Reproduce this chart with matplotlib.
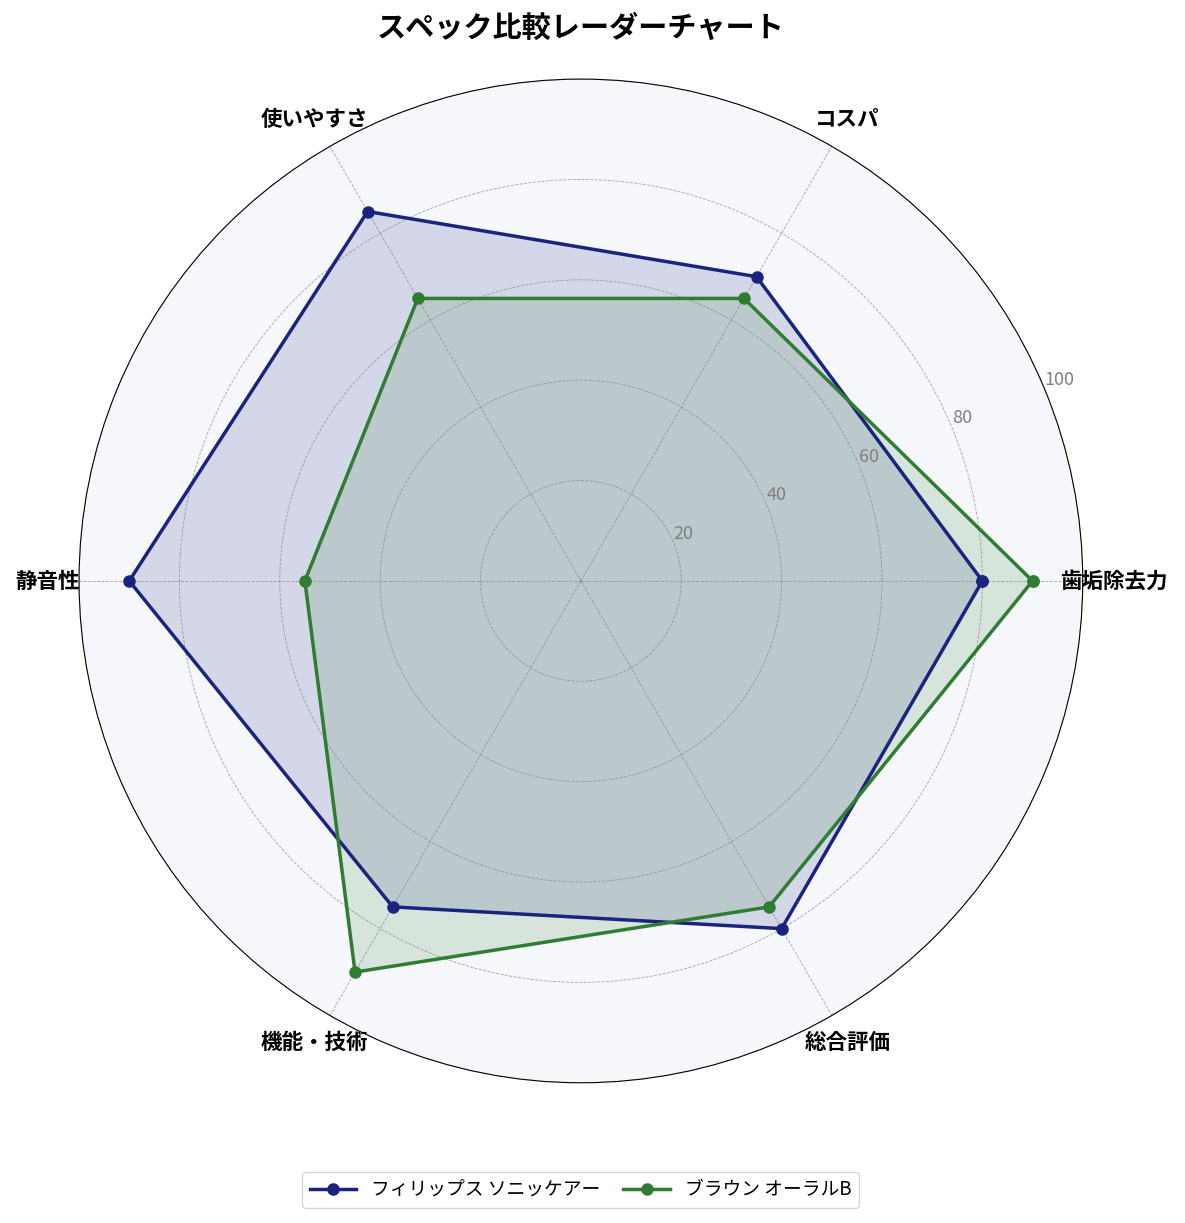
import numpy as np
import matplotlib
matplotlib.use("Agg")
import matplotlib.pyplot as plt

plt.rcParams['font.family'] = ['Noto Sans CJK JP', 'DejaVu Sans']

# axis categories and scores
categories = ['歯垢除去力', 'コスパ', '使いやすさ', '静音性', '機能・技術', '総合評価']
philips = [80, 70, 85, 90, 75, 80]
braun = [90, 65, 65, 55, 90, 75]
series_names = ['フィリップス ソニッケアー', 'ブラウン オーラルB']
r_ticks = [20, 40, 60, 80, 100]

angles = np.linspace(0, 2 * np.pi, len(categories), endpoint=False).tolist()
angles_closed = angles + angles[:1]

fig = plt.figure(figsize=(11.85, 12.23), dpi=100)
ax = fig.add_axes([0.0667, 0.1145, 0.847, 0.821], polar=True)
ax.set_facecolor('#f5f7fa')

colors = ['#1a237e', '#2e7d32']
for vals, name, c in zip([philips, braun], series_names, colors):
    v = vals + vals[:1]
    ax.plot(angles_closed, v, color=c, linewidth=2.5, marker='o', markersize=8, label=name)
    ax.fill(angles_closed, v, color=c, alpha=0.15)

ax.set_ylim(0, 100)
ax.set_yticks(r_ticks)
ax.set_yticklabels([str(t) for t in r_ticks], color='gray', fontsize=13)
ax.set_rlabel_position(22.5)
ax.set_xticks(angles)
ax.set_xticklabels(categories, fontsize=15.5, fontweight='bold')
ax.tick_params(axis='x', pad=12)
ax.grid(color='gray', linestyle='--', linewidth=0.6, alpha=0.7)
ax.spines['polar'].set_color('black')

fig.text(0.49, 0.977, 'スペック比較レーダーチャート', ha='center', va='center',
         fontsize=21, fontweight='bold')
fig.legend(loc='center', bbox_to_anchor=(0.49, 0.027), ncol=2, fontsize=13.5,
           handlelength=2.5, columnspacing=1.2)

fig.savefig('out.png', dpi=100)
